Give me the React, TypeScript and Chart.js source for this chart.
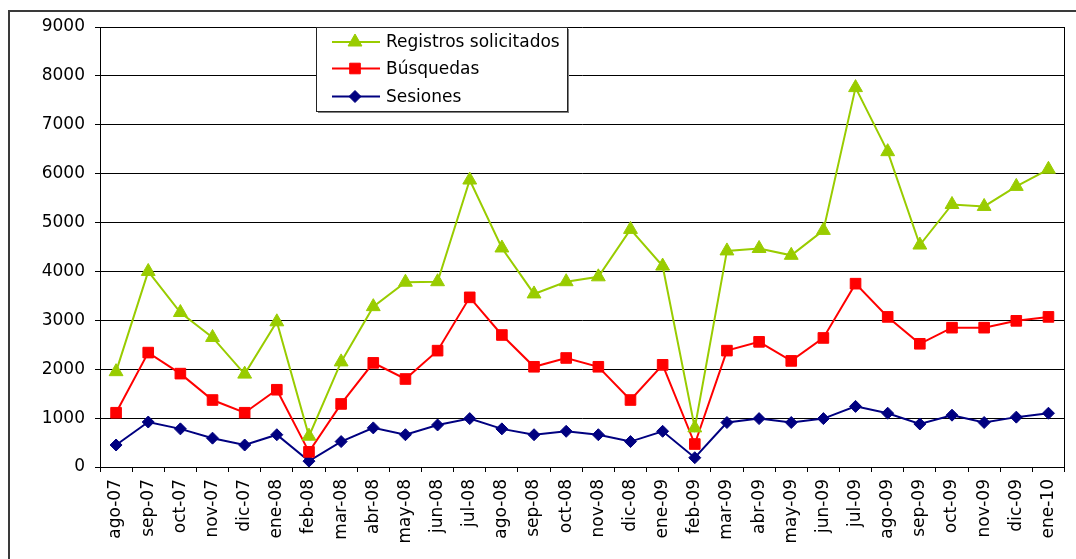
import React, { useEffect, useRef } from "react";
import { Chart, registerables } from "chart.js";

Chart.register(...registerables);

const categories = [
  "ago-07", "sep-07", "oct-07", "nov-07", "dic-07", "ene-08", "feb-08", "mar-08",
  "abr-08", "may-08", "jun-08", "jul-08", "ago-08", "sep-08", "oct-08", "nov-08",
  "dic-08", "ene-09", "feb-09", "mar-09", "abr-09", "may-09", "jun-09", "jul-09",
  "ago-09", "sep-09", "oct-09", "nov-09", "dic-09", "ene-10",
];

const registros = [
  1950, 4000, 3160, 2650, 1900, 2970, 630, 2150, 3280, 3780, 3790, 5870, 4480, 3540, 3790,
  3890, 4860, 4110, 800, 4420, 4470, 4330, 4840, 7760, 6450, 4540, 5370, 5330, 5740, 6090,
];

const busquedas = [
  1110, 2340, 1910, 1370, 1110, 1580, 310, 1290, 2130, 1800, 2380, 3470, 2700, 2050, 2230,
  2050, 1370, 2090, 470, 2380, 2560, 2170, 2640, 3750, 3070, 2520, 2850, 2850, 2990, 3070,
];

const sesiones = [
  450, 920, 780, 590, 450, 660, 120, 520, 800, 660, 860, 990, 780, 660, 730,
  660, 520, 730, 190, 910, 990, 910, 990, 1240, 1100, 880, 1060, 910, 1020, 1100,
];

const seriesNames = ["Registros solicitados", "Búsquedas", "Sesiones"];
const yTicks = { min: 0, max: 9000, step: 1000 };

const FONT = "DejaVu Sans";

const framePlugin = {
  id: "frame",
  afterDraw(chart: any) {
    const ctx = chart.ctx;
    const a = chart.chartArea;
    ctx.save();
    // outer chart border
    ctx.strokeStyle = "#3a3a3a";
    ctx.lineWidth = 2;
    ctx.strokeRect(9, 11, 1200, 700);
    // plot area border
    ctx.strokeStyle = "#000";
    ctx.lineWidth = 1;
    ctx.beginPath();
    ctx.moveTo(Math.round(a.right) - 0.5, a.top);
    ctx.lineTo(Math.round(a.right) - 0.5, a.bottom);
    ctx.stroke();

    // legend
    const lx = 316, ly = 27, lw = 251, lh = 84;
    ctx.fillStyle = "#808080";
    ctx.fillRect(lx + 2, ly + 2, lw, lh);
    ctx.fillStyle = "#fff";
    ctx.fillRect(lx, ly, lw, lh);
    ctx.strokeStyle = "#222";
    ctx.lineWidth = 1;
    ctx.strokeRect(lx + 0.5, ly + 0.5, lw, lh);

    const rows = [42, 68.5, 96.5];
    chart.data.datasets.forEach((ds: any, i: number) => {
      const y = rows[i];
      ctx.strokeStyle = ds.borderColor;
      ctx.lineWidth = 2;
      ctx.beginPath();
      ctx.moveTo(332, y);
      ctx.lineTo(380, y);
      ctx.stroke();
      ctx.fillStyle = ds.backgroundColor;
      ctx.strokeStyle = ds.borderColor;
      ctx.lineWidth = 1;
      const r = ds.pointRadius;
      ctx.beginPath();
      if (ds.pointStyle === "triangle") {
        ctx.moveTo(355, y - r);
        ctx.lineTo(355 + r * 0.866, y + r * 0.5);
        ctx.lineTo(355 - r * 0.866, y + r * 0.5);
        ctx.closePath();
      } else if (ds.pointStyle === "rect") {
        const s = r * Math.SQRT1_2;
        ctx.rect(355 - s, y - s, 2 * s, 2 * s);
      } else {
        ctx.moveTo(355, y - r);
        ctx.lineTo(355 + r, y);
        ctx.lineTo(355, y + r);
        ctx.lineTo(355 - r, y);
        ctx.closePath();
      }
      ctx.fill();
      ctx.stroke();
      ctx.fillStyle = "#000";
      ctx.font = `17px "${FONT}"`;
      ctx.textBaseline = "middle";
      ctx.textAlign = "left";
      ctx.fillText(seriesNames[i], 386, y + 1);
    });
    ctx.restore();
  },
};

export default function App() {
  const ref = useRef<HTMLCanvasElement>(null);

  useEffect(() => {
    if (!ref.current) return;
    Chart.defaults.font.family = FONT;
    Chart.defaults.color = "#000";
    const chart = new Chart(ref.current, {
      type: "line",
      data: {
        labels: categories,
        datasets: [
          {
            label: seriesNames[0],
            data: registros,
            borderColor: "#99CC00",
            backgroundColor: "#99CC00",
            borderWidth: 2,
            pointStyle: "triangle",
            pointRadius: 8,
            pointBorderWidth: 1,
            tension: 0,
          },
          {
            label: seriesNames[1],
            data: busquedas,
            borderColor: "#FF0000",
            backgroundColor: "#FF0000",
            borderWidth: 2,
            pointStyle: "rect",
            pointRadius: 7.5,
            pointBorderWidth: 1,
            tension: 0,
          },
          {
            label: seriesNames[2],
            data: sesiones,
            borderColor: "#000080",
            backgroundColor: "#000080",
            borderWidth: 2,
            pointStyle: "rectRot",
            pointRadius: 6,
            pointBorderWidth: 1,
            tension: 0,
          },
        ],
      },
      options: {
        animation: false,
        responsive: false,
        devicePixelRatio: 1,
        layout: { padding: { left: 0, top: 27, right: 3, bottom: 0 } },
        plugins: {
          legend: { display: false },
          tooltip: { enabled: false },
        },
        scales: {
          x: {
            type: "category",
            offset: true,
            grid: {
              display: true,
              drawOnChartArea: false,
              drawTicks: true,
              tickLength: 5,
              color: "#000",
              offset: true,
            },
            border: { display: true, color: "#000", width: 1 },
            ticks: {
              autoSkip: false,
              minRotation: 90,
              maxRotation: 90,
              padding: 7,
              color: "#000",
              font: { size: 17, family: FONT },
            },
            afterFit(scale: any) {
              scale.height = 92;
            },
          },
          y: {
            min: yTicks.min,
            max: yTicks.max,
            ticks: {
              stepSize: yTicks.step,
              padding: 10,
              color: "#000",
              font: { size: 17, family: FONT },
              callback: (v: any) => String(v),
            },
            grid: {
              color: "#000",
              lineWidth: 1,
              drawTicks: true,
              tickLength: 5,
            },
            border: { display: true, color: "#000", width: 1 },
            afterFit(scale: any) {
              scale.width = 100;
            },
          },
        },
      },
      plugins: [framePlugin],
    });
    return () => chart.destroy();
  }, []);

  return (
    <div style={{ position: "absolute", left: 0, top: 0, width: 1076, height: 559, background: "#fff" }}>
      <canvas ref={ref} width={1076} height={559} style={{ display: "block" }} />
    </div>
  );
}
